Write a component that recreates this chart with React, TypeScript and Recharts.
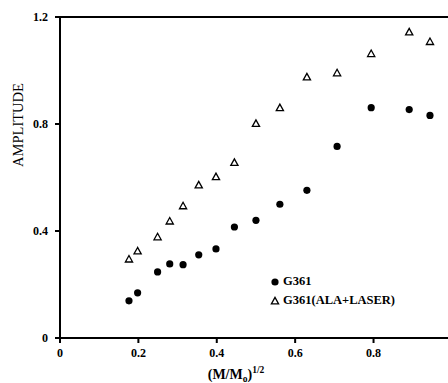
import React from 'react';
import { ScatterChart, Scatter, XAxis, YAxis, ReferenceLine } from 'recharts';

const massRatio = [0.176, 0.198, 0.249, 0.280, 0.314, 0.354, 0.398, 0.445, 0.500, 0.561, 0.630, 0.707, 0.794, 0.891, 0.944];
const g361 = [0.139, 0.169, 0.247, 0.277, 0.274, 0.311, 0.333, 0.415, 0.440, 0.500, 0.552, 0.716, 0.861, 0.854, 0.832];
const g361Ala = [0.295, 0.325, 0.378, 0.437, 0.494, 0.572, 0.603, 0.656, 0.802, 0.861, 0.976, 0.991, 1.063, 1.144, 1.108];
const xTicks = [0, 0.2, 0.4, 0.6, 0.8];
const xTickLabels = ['0', '0.2', '0.4', '0.6', '0.8'];
const yTicks = [0, 0.4, 0.8, 1.2];
const yTickLabels = ['0', '0.4', '0.8', '1.2'];
const seriesNames = ['G361', 'G361(ALA+LASER)'];

const dataA = massRatio.map((x, i) => ({ x, y: g361[i] }));
const dataB = massRatio.map((x, i) => ({ x, y: g361Ala[i] }));

const FONT = '"Liberation Serif", "Times New Roman", serif';

const Dot = (props: any) => <circle cx={props.cx} cy={props.cy} r={3.6} fill="#000" />;
const Tri = (props: any) => {
  const { cx, cy } = props;
  return (
    <polygon
      points={`${cx},${cy - 3.6} ${cx - 3.6},${cy + 2.9} ${cx + 3.6},${cy + 2.9}`}
      fill="#fff"
      stroke="#000"
      strokeWidth={1.3}
    />
  );
};

const LegendBox = () => (
  <div
    style={{
      position: 'absolute',
      left: 270,
      top: 272,
      fontFamily: FONT,
      fontWeight: 'bold',
      fontSize: 12.5,
      color: '#000',
      lineHeight: '19px',
      whiteSpace: 'nowrap',
    }}
  >
    <div style={{ display: 'flex', alignItems: 'center' }}>
      <svg width={10} height={10} style={{ marginRight: 3 }}>
        <circle cx={5} cy={5} r={3.6} fill="#000" />
      </svg>
      {seriesNames[0]}
    </div>
    <div style={{ display: 'flex', alignItems: 'center' }}>
      <svg width={10} height={10} style={{ marginRight: 3 }}>
        <polygon points="5,1.4 1.4,7.9 8.6,7.9" fill="#fff" stroke="#000" strokeWidth={1.3} />
      </svg>
      {seriesNames[1]}
    </div>
  </div>
);

const tickStyle = { fontFamily: FONT, fontWeight: 'bold' as const, fontSize: 12, fill: '#000' };

export default function App() {
  return (
    <div style={{ position: 'absolute', left: 0, top: 0, width: 448, height: 383, background: '#fff' }}>
      <ScatterChart width={448} height={383} margin={{ top: 17, right: 0, bottom: 0, left: 0 }}>
        <XAxis
          type="number"
          dataKey="x"
          domain={[0, 0.99]}
          ticks={xTicks}
          tickFormatter={(v: number) => xTickLabels[xTicks.indexOf(v)] ?? String(v)}
          height={45}
          axisLine={{ stroke: '#000', strokeWidth: 2 }}
          tickLine={{ stroke: '#000', strokeWidth: 2 }}
          tickSize={5}
          tickMargin={5}
          tick={tickStyle}
          allowDataOverflow
          label={{
            content: () => (
              <text x={236} y={379} textAnchor="middle" fontFamily={FONT} fontWeight="bold" fontSize={14} style={{ fill: '#000' }}>
                (M/M
                <tspan fontSize={9.5} dy={3}>o</tspan>
                <tspan dy={-3}>)</tspan>
                <tspan fontSize={9.5} dy={-6}>1/2</tspan>
              </text>
            ),
          }}
        />
        <YAxis
          type="number"
          dataKey="y"
          domain={[0, 1.2]}
          ticks={yTicks}
          tickFormatter={(v: number) => yTickLabels[yTicks.indexOf(v)] ?? String(v)}
          width={60}
          axisLine={{ stroke: '#000', strokeWidth: 2 }}
          tickLine={{ stroke: '#000', strokeWidth: 2 }}
          tickSize={5}
          tickMargin={7}
          tick={tickStyle}
          label={{
            content: () => (
              <text
                x={18}
                y={125}
                transform="rotate(-90 18 125)"
                textAnchor="middle"
                dominantBaseline="central"
                fontFamily={FONT}
                fontSize={14.5}
                style={{ fill: '#000' }}
              >
                AMPLITUDE
              </text>
            ),
          }}
        />
        <ReferenceLine y={1.2} stroke="#000" strokeWidth={2} ifOverflow="visible" />
        <Scatter name={seriesNames[0]} data={dataA} shape={Dot} isAnimationActive={false} />
        <Scatter name={seriesNames[1]} data={dataB} shape={Tri} isAnimationActive={false} />
      </ScatterChart>
      <LegendBox />
    </div>
  );
}
